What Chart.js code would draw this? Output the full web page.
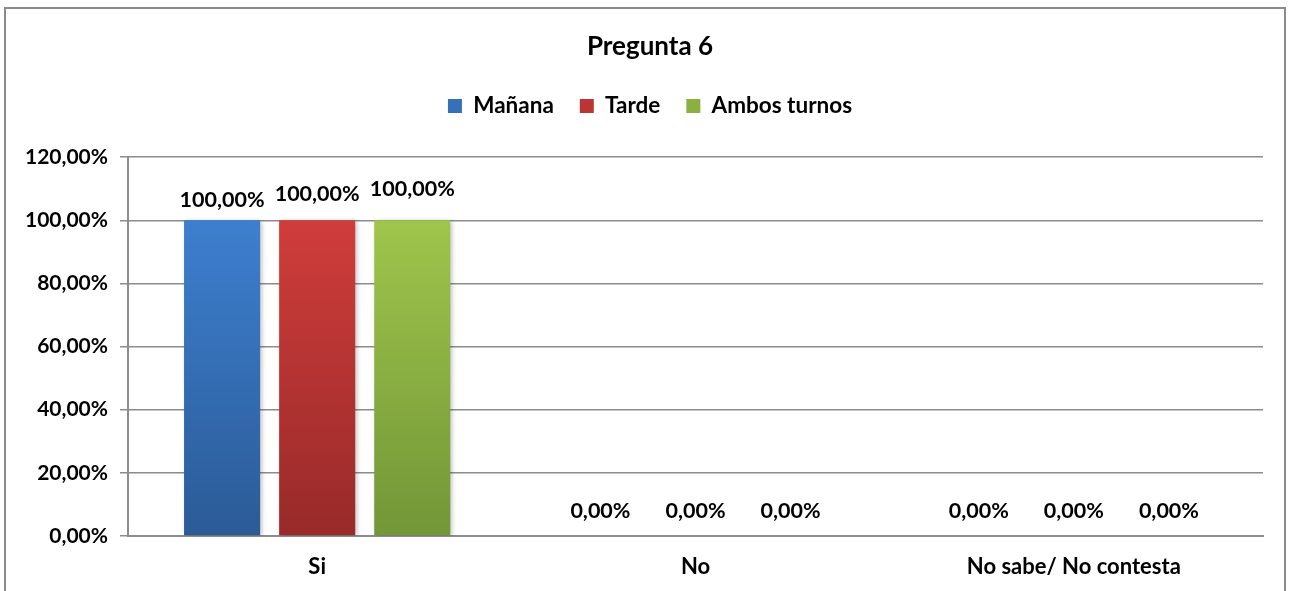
<!DOCTYPE html>
<html>
<head>
<meta charset="utf-8">
<script src="https://cdn.jsdelivr.net/npm/chart.js@4.4.1/dist/chart.umd.min.js"></script>
<style>
  html, body { margin: 0; padding: 0; background: #ffffff; }
  #wrap { position: relative; width: 1292px; height: 591px; }
  canvas { display: block; }
</style>
</head>
<body>
<div id="wrap"><canvas id="c" width="1292" height="591"></canvas></div>
<script>
const chartTitle = 'Pregunta 6';
const categories = ['Si', 'No', 'No sabe/ No contesta'];
const seriesNames = ['Mañana', 'Tarde', 'Ambos turnos'];
const manana = [100, 0, 0];
const tarde = [100, 0, 0];
const ambos = [100, 0, 0];
const yTicks = [0, 20, 40, 60, 80, 100, 120];

const FONT = 'Lato, "Open Sans", sans-serif';
const colorsTop = ['#3d7fcf', '#cf3d3b', '#9fc54c'];
const colorsBottom = ['#2b5b97', '#982a29', '#739637'];
const colorsMid = ['#3670b8', '#bb3535', '#8ab042'];
const labelOffsets = [20, 26, 31];

function fmt(v) { return v.toFixed(2).replace('.', ',') + '%'; }

function gradientFor(i) {
  return function (ctx) {
    const chart = ctx.chart;
    const area = chart.chartArea;
    if (!area) return colorsMid[i];
    const y = chart.scales.y;
    const g = chart.ctx.createLinearGradient(0, y.getPixelForValue(100), 0, y.getPixelForValue(0));
    g.addColorStop(0, colorsTop[i]);
    g.addColorStop(1, colorsBottom[i]);
    return g;
  };
}

const headerPlugin = {
  id: 'headerPlacement',
  afterInit(chart) {
    const lg = chart.legend;
    if (!lg) return;
    const orig = lg.fit.bind(lg);
    lg.fit = function () { orig(); this.height += 30; };
  },
  afterLayout(chart) {
    if (chart.titleBlock) chart.titleBlock.left = 37;
    if (chart.legend) chart.legend.left = 37;
  }
};

const borderPlugin = {
  id: 'frame',
  afterDraw(chart) {
    const c = chart.ctx;
    c.save();
    c.strokeStyle = '#8a8a8a';
    c.lineWidth = 2;
    c.strokeRect(5, 8, 1280, 600);
    c.restore();
  }
};

const shadowPlugin = {
  id: 'barShadow',
  beforeDatasetDraw(chart) {
    const c = chart.ctx;
    c.save();
    c.shadowColor = 'rgba(0,0,0,0.28)';
    c.shadowBlur = 5;
    c.shadowOffsetX = 2;
    c.shadowOffsetY = 1;
  },
  afterDatasetDraw(chart) {
    chart.ctx.restore();
  }
};

const labelPlugin = {
  id: 'valueLabels',
  afterDatasetsDraw(chart) {
    const c = chart.ctx;
    c.save();
    c.font = 'bold 21.5px ' + FONT;
    c.fillStyle = '#000000';
    c.textAlign = 'center';
    c.textBaseline = 'middle';
    chart.data.datasets.forEach((ds, di) => {
      const meta = chart.getDatasetMeta(di);
      meta.data.forEach((bar, i) => {
        const v = ds.data[i];
        const off = v > 0 ? labelOffsets[di] : 25;
        c.fillText(fmt(v), bar.x, bar.y - off);
      });
    });
    c.restore();
  }
};

new Chart(document.getElementById('c'), {
  type: 'bar',
  data: {
    labels: categories,
    datasets: [
      { label: seriesNames[0], data: manana, backgroundColor: gradientFor(0) },
      { label: seriesNames[1], data: tarde, backgroundColor: gradientFor(1) },
      { label: seriesNames[2], data: ambos, backgroundColor: gradientFor(2) }
    ]
  },
  options: {
    responsive: false,
    animation: false,
    events: [],
    layout: { padding: { left: 0, right: 29, top: 0, bottom: 0 } },
    datasets: { bar: { categoryPercentage: 0.754, barPercentage: 0.8, borderWidth: 0 } },
    plugins: {
      title: {
        display: true,
        text: chartTitle,
        color: '#000000',
        font: { family: FONT, size: 26, weight: 'bold' },
        padding: { top: 31, bottom: 6.5 }
      },
      legend: {
        display: true,
        position: 'top',
        labels: {
          color: '#000000',
          font: { family: FONT, size: 22.5, weight: 'bold' },
          boxWidth: 14,
          boxHeight: 14,
          padding: 26,
          generateLabels(chart) {
            return chart.data.datasets.map((ds, i) => ({
              text: ds.label,
              fillStyle: colorsMid[i],
              strokeStyle: colorsMid[i],
              lineWidth: 0,
              datasetIndex: i,
              hidden: false,
              fontColor: '#000000'
            }));
          }
        }
      },
      tooltip: { enabled: false }
    },
    scales: {
      x: {
        afterFit(scale) { scale.height = 55; },
        grid: { display: false, drawTicks: false },
        border: { display: true, color: '#8c8c8c', width: 2 },
        ticks: {
          color: '#000000',
          padding: 18,
          font: { family: FONT, size: 22, weight: 'bold' }
        }
      },
      y: {
        min: 0,
        max: 120,
        afterBuildTicks(scale) { scale.ticks = yTicks.map(v => ({ value: v })); },
        afterFit(scale) { scale.width = 128; },
        grid: { color: '#8c8c8c', lineWidth: 1.5, tickLength: 8, drawTicks: true },
        border: { display: true, color: '#8c8c8c', width: 2 },
        ticks: {
          color: '#000000',
          padding: 12,
          font: { family: FONT, size: 21, weight: 'bold' },
          callback: (v) => fmt(v)
        }
      }
    }
  },
  plugins: [headerPlugin, shadowPlugin, labelPlugin, borderPlugin]
});
</script>
</body>
</html>
